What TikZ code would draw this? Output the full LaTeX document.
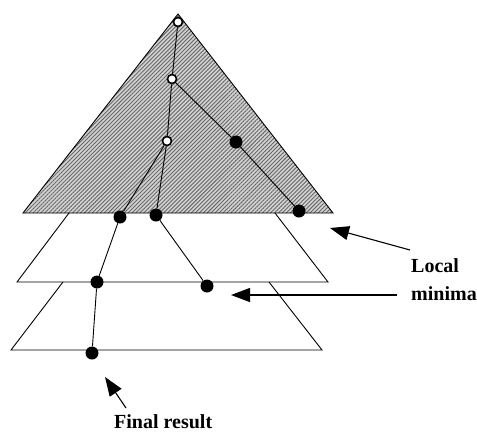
\documentclass[tikz,border=0pt]{standalone}
\usepackage{fontspec}
\setmainfont{Liberation Serif}
\usetikzlibrary{positioning}
\usetikzlibrary{patterns.meta}
\usetikzlibrary{arrows.meta}

\tikzset{
  opendot/.style={circle, draw=black, fill=white, line width=1.6pt,
    inner sep=0pt, minimum size=9pt},
  fulldot/.style={circle, fill=black, inner sep=0pt, minimum size=13pt},
  level/.style={draw=black, line width=0.9pt},
  link/.style={line width=0.9pt},
  pointer/.style={line width=1.1pt, -{Triangle[length=19pt, width=14pt]}},
  caption/.style={font=\fontsize{20}{23}\selectfont\bfseries, inner sep=0pt}
}

\begin{document}
\begin{tikzpicture}[x=1pt, y=-1pt]
      \useasboundingbox (0,0) rectangle (477,432);

      % corners of the three levels
      \coordinate (apex) at (178,14);
      \coordinate (TL) at (23,213);
      \coordinate (TR) at (333,213);
      \coordinate (ML) at (69,213);
      \coordinate (MR) at (275,213);
      \coordinate (MBL) at (17,282);
      \coordinate (MBR) at (328,282);
      \coordinate (BL) at (63,282);
      \coordinate (BR) at (269,282);
      \coordinate (BBL) at (11,350);
      \coordinate (BBR) at (322,350);

      % top level, hatched
      \fill[gray!35] (TL) -- (apex) -- (TR) -- cycle;
      \fill[pattern={Lines[angle=45, distance=2.8pt, line width=0.9pt]},
        pattern color=black!60] (TL) -- (apex) -- (TR) -- cycle;
      \draw[level] (TL) -- (apex) -- (TR) -- cycle;

      % lower levels
      \draw[level] (ML) -- (MBL) -- (MBR) -- (MR);
      \draw[level] (BL) -- (BBL) -- (BBR) -- (BR);

      % search points
      \node[opendot] (s1) at (178,22) {};
      \node[opendot] (s2) at (172,79) {};
      \node[opendot] (s3) at (167,141) {};
      \node[fulldot] (a1) at (236,142) {};
      \node[fulldot] (a2) at (299,211) {};
      \node[fulldot] (b1) at (120,217) {};
      \node[fulldot] (b2) at (156,215) {};
      \node[fulldot] (c1) at (97,282) {};
      \node[fulldot] (c2) at (207,286) {};
      \node[fulldot] (d1) at (92,353) {};

      \draw[link] (s1) -- (s2);
      \draw[link] (s2) -- (s3);
      \draw[link] (s2) -- (a1);
      \draw[link] (a1) -- (a2);
      \draw[link] (s3) -- (b1);
      \draw[link] (s3) -- (b2);
      \draw[link] (b1) -- (c1);
      \draw[link] (b2) -- (c2);
      \draw[link] (c1) -- (d1);

      % labels
      \node[caption, anchor=base west] (local) at (411,272) {Local};
      \node[caption, anchor=base west] (minima) at (411,300) {minima};
      \node[caption, anchor=base west] (final) at (114,428) {Final result};

      \coordinate (localtail) at (410,250);
      \coordinate (localtip) at (330,228);
      \coordinate (minimatail) at (397,295);
      \coordinate (minimatip) at (231,295);
      \coordinate (finaltail) at (126,408);
      \coordinate (finaltip) at (105,377);

      \draw[pointer] (localtail) -- (localtip);
      \draw[pointer] (minimatail) -- (minimatip);
      \draw[pointer] (finaltail) -- (finaltip);
\end{tikzpicture}
\end{document}
